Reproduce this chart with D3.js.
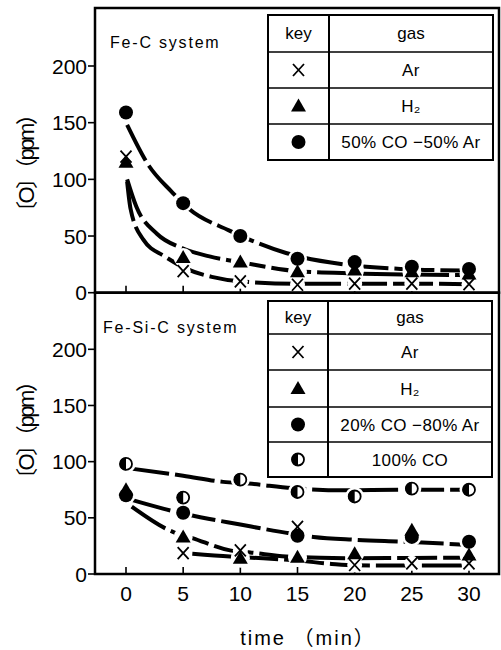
<!DOCTYPE html>
<html><head><meta charset="utf-8">
<script src="https://cdn.jsdelivr.net/npm/d3@7"></script>
<style>body{margin:0;background:#fff}svg{display:block}</style>
</head><body>
<svg id="c" width="501" height="650"></svg>
<script>
// ---------- data ----------
const xTicks = [0, 5, 10, 15, 20, 25, 30];
const yTicks = [0, 50, 100, 150, 200];
const times = [0, 5, 10, 15, 20, 25, 30];

// Fe-C system (measured)
const feC_Ar   = [120, 19, 10, 7, 8, 8, 7.5];
const feC_H2   = [115, 31, 27, 18.5, 20, 18.5, 16.5];
const feC_CO50 = [159, 79, 50, 30, 27, 23, 21];
// Fe-C system (fitted curves, [time, ppm])
const fitFeC_Ar   = [[0.1,98],[0.4,74],[1.5,47],[3.4,32],[5.3,21],[7.5,14],[10,10],[15,8],[20,8],[25,8],[30,7.5]];
const fitFeC_H2   = [[0.1,100],[0.9,76],[2.7,52],[5,39],[7.3,32],[10,27],[15,19],[20,17],[25,16],[30,15.5]];
const fitFeC_CO50 = [[0.1,148],[2,112],[4,89],[5.5,74],[9,55],[11,46],[14,35],[19,25],[24,21],[30,19.5]];

// Fe-Si-C system (measured)
const feSiC_Ar_t   = [5, 10, 15, 20, 25, 30];
const feSiC_Ar     = [18.5, 21, 42, 8, 9.5, 9.5];
const feSiC_H2     = [75, 33, 14, 15, 18, 39, 17];
const feSiC_CO20_t = [0, 5, 15, 25, 30];
const feSiC_CO20   = [70, 54.5, 34, 33, 28.7];
const feSiC_CO100  = [98, 68, 84, 73, 69, 76, 75];
// Fe-Si-C system (fitted curves)
const fitFeSiC_Ar    = [[5.8,18],[9.1,15.5],[12,14],[15,12],[18,9],[20,7.8],[25,7.5],[30,7.5]];
const fitFeSiC_H2    = [[0.5,60],[4.1,37.5],[5.8,32],[9.1,21],[11,19],[14,15.5],[17,14.5],[20,14],[25,14.3],[30,14.5]];
const fitFeSiC_CO20  = [[0.5,66],[4.3,55.5],[5.6,52.5],[10,44],[14.4,36],[16.4,33],[20,30.5],[24.5,28.7],[29.7,26]];
const fitFeSiC_CO100 = [[0.3,94],[5,87.5],[8.5,82],[10.7,80.5],[14.5,76.5],[19,74.5],[24,75],[30,75]];

const legendTop = ["Ar", "H\u2082", "50% CO \u221250% Ar"];
const legendBot = ["Ar", "H\u2082", "20% CO \u221280% Ar", "100% CO"];

// ---------- layout ----------
const svg = d3.select("#c");
const F = "'Liberation Sans', Arial, sans-serif";
const FJ = "'Liberation Sans', 'Noto Sans CJK JP', sans-serif";
const frameL = 95, frameR = 499;
const x = d3.scaleLinear().domain([0, 30]).range([126, 469]);
const yT = d3.scaleLinear().domain([0, 200]).range([292.7, 66]);
const yB = d3.scaleLinear().domain([0, 200]).range([574, 349.3]);

function marker(g, type, cx, cy, halo) {
  if (halo) {
    g.append("circle").attr("cx", cx).attr("cy", cy).attr("r", type === "x" ? 7.5 : 9.5).attr("fill", "#fff");
    return;
  }
  if (type === "circle") {
    g.append("circle").attr("cx", cx).attr("cy", cy).attr("r", 7).attr("fill", "#000");
  } else if (type === "tri") {
    g.append("path").attr("d", `M${cx},${cy-7.5}L${cx+7.5},${cy+5.5}L${cx-7.5},${cy+5.5}Z`).attr("fill", "#000");
  } else if (type === "x") {
    g.append("path").attr("d", `M${cx-5.5},${cy-6}L${cx+5.5},${cy+6}M${cx+5.5},${cy-6}L${cx-5.5},${cy+6}`)
      .attr("stroke", "#000").attr("stroke-width", 1.8).attr("fill", "none");
  } else if (type === "half") {
    g.append("circle").attr("cx", cx).attr("cy", cy).attr("r", 6).attr("fill", "#fff").attr("stroke", "#000").attr("stroke-width", 1.8);
    g.append("path").attr("d", `M${cx},${cy-6.5}A6.5,6.5 0 0 0 ${cx},${cy+6.5}Z`).attr("fill", "#000");
  }
}

function panel(y, top, bottom, label, labelX, labelY, labelC, fits, series, legend, leg) {
  const g = svg.append("g");
  // y ticks
  yTicks.forEach(v => {
    g.append("line").attr("x1", frameL - 7).attr("x2", frameL).attr("y1", y(v)).attr("y2", y(v))
      .attr("stroke", "#000").attr("stroke-width", 1.6);
    g.append("text").attr("x", frameL - 8).attr("y", y(v) + 7.5).attr("text-anchor", "end")
      .attr("font-family", F).attr("font-size", 21).text(v);
  });
  // x ticks (inside)
  xTicks.forEach(t => {
    g.append("line").attr("x1", x(t)).attr("x2", x(t)).attr("y1", y(0)).attr("y2", y(0) - 7)
      .attr("stroke", "#000").attr("stroke-width", 1.6);
  });
  // system label
  g.append("text").attr("x", labelX).attr("y", labelY).attr("font-family", F).attr("font-size", 16)
    .attr("letter-spacing", 1.8).text(label);
  // y label
  g.append("text").attr("transform", `translate(34,${labelC}) rotate(-90)`)
    .attr("text-anchor", "middle").attr("font-family", FJ).attr("font-size", 22)
    .attr("textLength", 120).attr("lengthAdjust", "spacing").text("〔O〕（ppm）");
  // fitted curves
  const line = d3.line().x(d => x(d[0])).y(d => y(d[1])).curve(d3.curveMonotoneX);
  fits.forEach(f => {
    g.append("path").attr("d", line(f)).attr("fill", "none").attr("stroke", "#000")
      .attr("stroke-width", 4).attr("stroke-dasharray", "40,6").attr("stroke-linecap", "butt");
  });
  // halos then markers
  [true, false].forEach(h => {
    series.forEach(s => s.t.forEach((t, i) => marker(g, s.type, x(t), y(s.v[i]), h)));
  });
  // legend table
  const lx0 = leg.x0, lx1 = leg.x1, lc = leg.c, rows = leg.rows;
  g.append("rect").attr("x", lx0).attr("y", rows[0]).attr("width", lx1 - lx0).attr("height", rows[rows.length - 1] - rows[0])
    .attr("fill", "#fff").attr("stroke", "#000").attr("stroke-width", 2);
  g.append("line").attr("x1", lc).attr("x2", lc).attr("y1", rows[0]).attr("y2", rows[rows.length - 1]).attr("stroke", "#000").attr("stroke-width", 2);
  rows.slice(1, -1).forEach(r => g.append("line").attr("x1", lx0).attr("x2", lx1).attr("y1", r).attr("y2", r).attr("stroke", "#000").attr("stroke-width", 1.6));
  const c1 = (lx0 + lc) / 2, c2 = (lc + lx1) / 2;
  const mid = i => (rows[i] + rows[i + 1]) / 2;
  g.append("text").attr("x", c1).attr("y", mid(0) + 5).attr("text-anchor", "middle").attr("font-family", F).attr("font-size", 17).text("key");
  g.append("text").attr("x", c2).attr("y", mid(0) + 5).attr("text-anchor", "middle").attr("font-family", F).attr("font-size", 17).text("gas");
  legend.forEach((name, i) => {
    marker(g, series[i].type, c1, mid(i + 1), false);
    g.append("text").attr("x", c2).attr("y", mid(i + 1) + 6).attr("text-anchor", "middle").attr("font-family", F)
      .attr("font-size", 17).attr("letter-spacing", 0.4).text(name);
  });
  // frame
  g.append("rect").attr("x", frameL).attr("y", top).attr("width", frameR - frameL).attr("height", bottom - top)
    .attr("fill", "none").attr("stroke", "#000").attr("stroke-width", 2.5);
}

panel(yT, 8, 292.7, "Fe-C system", 110, 48, 163,
  [fitFeC_CO50, fitFeC_H2, fitFeC_Ar],
  [{type: "x", t: times, v: feC_Ar}, {type: "tri", t: times, v: feC_H2}, {type: "circle", t: times, v: feC_CO50}],
  legendTop, {x0: 268, x1: 493, c: 329, rows: [15, 52, 88, 124, 160]});

panel(yB, 292.7, 574, "Fe-Si-C system", 103, 333, 430,
  [fitFeSiC_CO100, fitFeSiC_CO20, fitFeSiC_H2, fitFeSiC_Ar],
  [{type: "x", t: feSiC_Ar_t, v: feSiC_Ar}, {type: "tri", t: times, v: feSiC_H2},
   {type: "circle", t: feSiC_CO20_t, v: feSiC_CO20}, {type: "half", t: times, v: feSiC_CO100}],
  legendBot, {x0: 268, x1: 492, c: 328, rows: [301, 334, 370, 407, 442, 477]});

// x tick labels
xTicks.forEach(t => {
  svg.append("text").attr("x", x(t)).attr("y", 601).attr("text-anchor", "middle")
    .attr("font-family", F).attr("font-size", 21).text(t);
});
svg.append("text").attr("x", 308).attr("y", 645).attr("text-anchor", "middle").attr("font-family", FJ)
  .attr("font-size", 20).attr("letter-spacing", 2).text("time （min）");
</script>
</body></html>
